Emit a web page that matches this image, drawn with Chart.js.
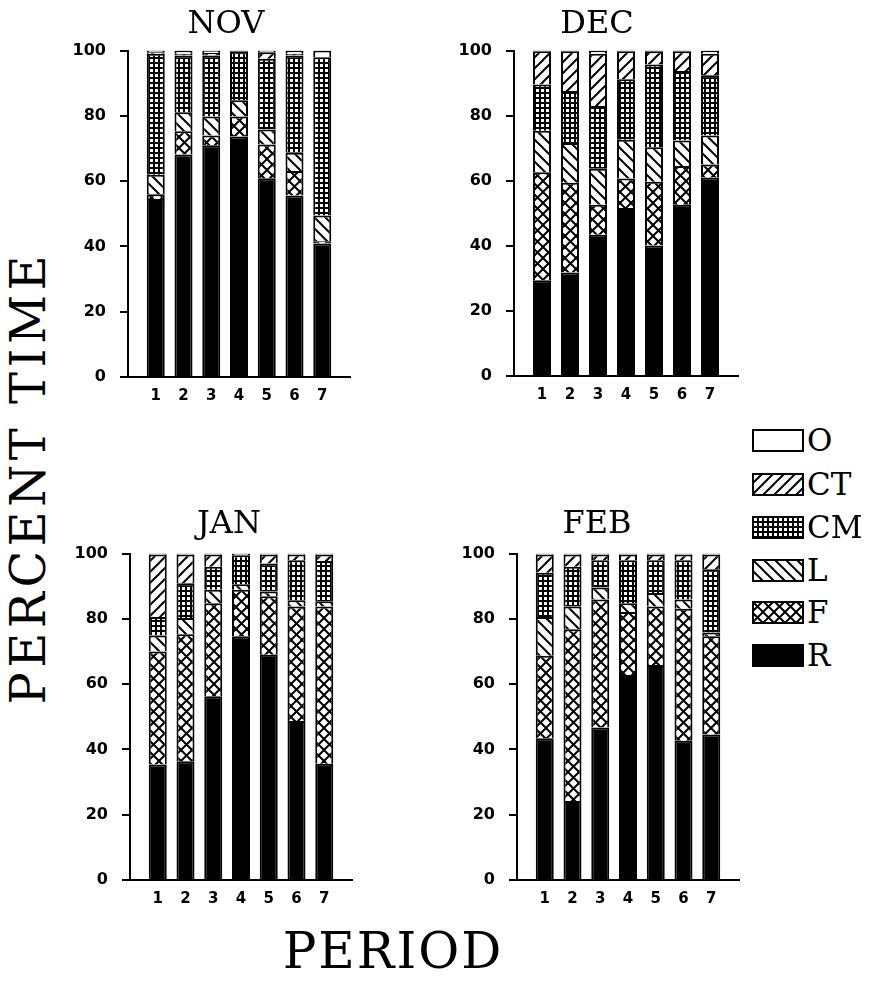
<!DOCTYPE html>
<html>
<head>
<meta charset="utf-8">
<script src="https://cdn.jsdelivr.net/npm/chart.js@4/dist/chart.umd.min.js"></script>
<style>
  html, body { margin:0; padding:0; background:#fff; }
  body { width:877px; height:982px; position:relative; overflow:hidden; }
  canvas.panel { position:absolute; }
  .txt { position:absolute; font-family:"DejaVu Serif", serif; color:#000; white-space:nowrap; text-align:center; box-sizing:border-box; }
  .leg { position:absolute; }
</style>
</head>
<body>
<script>
// ---------------- DATA ----------------
const periods = [1, 2, 3, 4, 5, 6, 7];
const months = ['NOV', 'DEC', 'JAN', 'FEB'];
const seriesNames = ['R', 'F', 'L', 'CM', 'CT', 'O'];          // bottom -> top of each stack
const legendOrder = ['O', 'CT', 'CM', 'L', 'F', 'R'];           // legend top -> bottom
const yTicks = [0, 20, 40, 60, 80, 100];

// NOV
const NOV_R  = [54.5, 68.2, 71.0, 73.7, 60.9, 55.6, 40.9];
const NOV_F  = [1.5, 7.1, 3.0, 6.1, 10.3, 7.5, 0.7];
const NOV_L  = [6.0, 5.8, 5.8, 5.0, 4.6, 5.6, 7.9];
const NOV_CM = [37.0, 17.4, 18.7, 15.0, 21.7, 29.8, 48.5];
const NOV_CT = [0.5, 0.5, 0.8, 0.0, 2.0, 0.5, 0.0];
const NOV_O  = [0.5, 1.0, 0.7, 0.2, 0.5, 1.0, 2.0];
// DEC
const DEC_R  = [29.4, 31.8, 43.4, 51.6, 40.1, 52.6, 61.0];
const DEC_F  = [33.2, 27.6, 9.2, 9.1, 19.6, 11.9, 4.0];
const DEC_L  = [12.8, 12.2, 11.1, 11.9, 10.6, 7.9, 8.9];
const DEC_CM = [14.2, 16.0, 19.3, 18.6, 25.4, 21.3, 18.5];
const DEC_CT = [10.2, 12.2, 16.0, 8.6, 4.1, 6.1, 6.6];
const DEC_O  = [0.2, 0.2, 1.0, 0.2, 0.2, 0.2, 1.0];
// JAN
const JAN_R  = [35.4, 36.4, 56.3, 74.7, 69.0, 48.7, 35.6];
const JAN_F  = [34.6, 38.9, 28.5, 14.2, 17.9, 35.1, 48.2];
const JAN_L  = [4.9, 5.0, 4.1, 1.7, 1.5, 1.9, 1.6];
const JAN_CM = [5.7, 10.6, 7.1, 8.9, 8.6, 12.3, 12.3];
const JAN_CT = [19.1, 8.8, 3.7, 0.0, 2.7, 1.7, 2.0];
const JAN_O  = [0.3, 0.3, 0.3, 0.5, 0.3, 0.3, 0.3];
// FEB
const FEB_R  = [43.4, 24.2, 46.7, 62.8, 65.9, 42.7, 44.6];
const FEB_F  = [25.3, 52.6, 39.2, 19.3, 17.9, 40.4, 30.1];
const FEB_L  = [11.9, 7.0, 3.7, 2.7, 4.1, 2.8, 1.1];
const FEB_CM = [13.5, 12.2, 8.4, 13.2, 10.1, 12.1, 19.4];
const FEB_CT = [5.6, 3.7, 1.7, 1.7, 1.7, 1.7, 4.5];
const FEB_O  = [0.3, 0.3, 0.3, 0.3, 0.3, 0.3, 0.3];

const monthData = {
  NOV: { R: NOV_R, F: NOV_F, L: NOV_L, CM: NOV_CM, CT: NOV_CT, O: NOV_O },
  DEC: { R: DEC_R, F: DEC_F, L: DEC_L, CM: DEC_CM, CT: DEC_CT, O: DEC_O },
  JAN: { R: JAN_R, F: JAN_F, L: JAN_L, CM: JAN_CM, CT: JAN_CT, O: JAN_O },
  FEB: { R: FEB_R, F: FEB_F, L: FEB_L, CM: FEB_CM, CT: FEB_CT, O: FEB_O }
};

// ---------------- LAYOUT / STYLE ----------------
const plotBoxes = {
  NOV: { left: 128, right: 350, top: 47,  bottom: 377 },
  DEC: { left: 514, right: 738, top: 47,  bottom: 376 },
  JAN: { left: 130, right: 352, top: 550, bottom: 880 },
  FEB: { left: 517, right: 739, top: 550, bottom: 880 }
};
const titleCenters = { NOV: [226, 21], DEC: [597, 21], JAN: [229, 521], FEB: [597, 521] };
const Y_AXIS_W = 70, X_AXIS_H = 30, PAD_TOP = 20, PAD_RIGHT = 5;

function makePattern(kind) {
  if (kind === 'solid') return '#000000';
  if (kind === 'white') return '#ffffff';
  const c = document.createElement('canvas');
  const g = c.getContext('2d');
  if (kind === 'grid') {
    const p = 5;
    c.width = p; c.height = p;
    g.fillStyle = '#fff'; g.fillRect(0, 0, p, p);
    g.fillStyle = '#000';
    g.fillRect(0, 0, p, 2);
    g.fillRect(0, 0, 2, p);
    return g.createPattern(c, 'repeat');
  }
  const p = 11;
  c.width = p; c.height = p;
  g.fillStyle = '#fff'; g.fillRect(0, 0, p, p);
  g.strokeStyle = '#000'; g.lineWidth = 2; g.lineCap = 'square';
  for (let k = -1; k <= 1; k++) {
    if (kind === 'fwd' || kind === 'cross') {
      g.beginPath(); g.moveTo(k * p, p); g.lineTo(k * p + p, 0); g.stroke();
    }
    if (kind === 'back' || kind === 'cross') {
      g.beginPath(); g.moveTo(k * p, 0); g.lineTo(k * p + p, p); g.stroke();
    }
  }
  return g.createPattern(c, 'repeat');
}
const fills = {
  R: makePattern('solid'),
  F: makePattern('cross'),
  L: makePattern('back'),
  CM: makePattern('grid'),
  CT: makePattern('fwd'),
  O: makePattern('white')
};

const tickFontX = { family: '"DejaVu Sans", sans-serif', size: 15, weight: 'bold' };
const tickFontY = { family: '"DejaVu Sans", sans-serif', size: 16, weight: 'bold' };

months.forEach(m => {
  const b = plotBoxes[m];
  const cv = document.createElement('canvas');
  cv.className = 'panel';
  const W = (b.right - b.left) + Y_AXIS_W + PAD_RIGHT;
  const H = (b.bottom - b.top) + PAD_TOP + X_AXIS_H;
  cv.width = W; cv.height = H;
  cv.style.width = W + 'px'; cv.style.height = H + 'px';
  cv.style.left = (b.left - Y_AXIS_W) + 'px';
  cv.style.top = (b.top - PAD_TOP) + 'px';
  document.body.appendChild(cv);

  const datasets = seriesNames.map(s => ({
    label: s,
    data: periods.map((p, i) => ({ x: p, y: monthData[m][s][i] })),
    backgroundColor: fills[s],
    borderColor: '#000',
    borderWidth: 2,
    barThickness: 18,
    inflateAmount: 0
  }));

  new Chart(cv, {
    type: 'bar',
    data: { datasets },
    options: {
      responsive: false,
      animation: false,
      maintainAspectRatio: false,
      layout: { padding: { top: PAD_TOP, right: PAD_RIGHT, left: 0, bottom: 0 } },
      plugins: { legend: { display: false }, tooltip: { enabled: false }, title: { display: false } },
      scales: {
        x: {
          type: 'linear', stacked: true, min: 0, max: 8, offset: false,
          afterBuildTicks: s => { s.ticks = periods.map(v => ({ value: v })); },
          afterFit: s => { s.height = X_AXIS_H; },
          grid: { display: false, drawTicks: false },
          border: { display: true, color: '#000', width: 2 },
          ticks: { color: '#000', font: tickFontX, padding: 10, maxRotation: 0, autoSkip: false,
                   callback: v => String(v) }
        },
        y: {
          stacked: true, min: 0, max: 100,
          afterBuildTicks: s => { s.ticks = yTicks.map(v => ({ value: v })); },
          afterFit: s => { s.width = Y_AXIS_W; },
          grid: { display: true, drawOnChartArea: false, drawTicks: true, tickLength: 8, color: '#000', lineWidth: 2 },
          border: { display: true, color: '#000', width: 2 },
          ticks: { color: '#000', font: tickFontY, padding: 14, callback: v => String(v) }
        }
      }
    }
  });

  const t = document.createElement('div');
  t.className = 'txt';
  const fs = 32;
  t.style.fontSize = fs + 'px';
  t.style.lineHeight = fs + 'px';
  t.style.width = '200px';
  t.style.left = (titleCenters[m][0] - 100) + 'px';
  t.style.top = (titleCenters[m][1] - 0.48 * fs) + 'px';
  t.textContent = m;
  document.body.appendChild(t);
});

// Axis titles
(function () {
  const yl = document.createElement('div');
  yl.className = 'txt';
  const fs = 48;
  yl.style.fontSize = fs + 'px';
  yl.style.lineHeight = fs + 'px';
  yl.style.height = fs + 'px';
  yl.style.letterSpacing = '4.5px';
  yl.style.paddingLeft = '4.5px';
  yl.style.width = '600px';
  yl.style.left = (28 - 300) + 'px';
  yl.style.top = (480 - fs / 2) + 'px';
  yl.style.transform = 'rotate(-90deg)';
  yl.style.transformOrigin = '50% 50%';
  yl.textContent = 'PERCENT TIME';
  document.body.appendChild(yl);

  const xl = document.createElement('div');
  xl.className = 'txt';
  const fs2 = 50;
  xl.style.fontSize = fs2 + 'px';
  xl.style.lineHeight = fs2 + 'px';
  xl.style.letterSpacing = '2px';
  xl.style.paddingLeft = '2px';
  xl.style.width = '400px';
  xl.style.left = (392 - 200) + 'px';
  xl.style.top = (950 - 0.48 * fs2) + 'px';
  xl.textContent = 'PERIOD';
  document.body.appendChild(xl);
})();

// Legend
const legendCenters = [440, 484, 527, 570, 612, 655];
legendOrder.forEach((s, i) => {
  const bw = 52, bh = 23;
  const c = document.createElement('canvas');
  c.className = 'leg';
  c.width = bw; c.height = bh;
  c.style.left = '752px';
  c.style.top = (legendCenters[i] - bh / 2) + 'px';
  const g = c.getContext('2d');
  g.fillStyle = fills[s];
  g.fillRect(0, 0, bw, bh);
  g.strokeStyle = '#000'; g.lineWidth = 2;
  g.strokeRect(1, 1, bw - 2, bh - 2);
  document.body.appendChild(c);

  const t = document.createElement('div');
  t.className = 'txt';
  const fs = 31;
  t.style.fontSize = fs + 'px';
  t.style.lineHeight = fs + 'px';
  t.style.textAlign = 'left';
  t.style.left = '807px';
  t.style.top = (legendCenters[i] - 0.48 * fs) + 'px';
  t.textContent = s;
  document.body.appendChild(t);
});
</script>
</body>
</html>
